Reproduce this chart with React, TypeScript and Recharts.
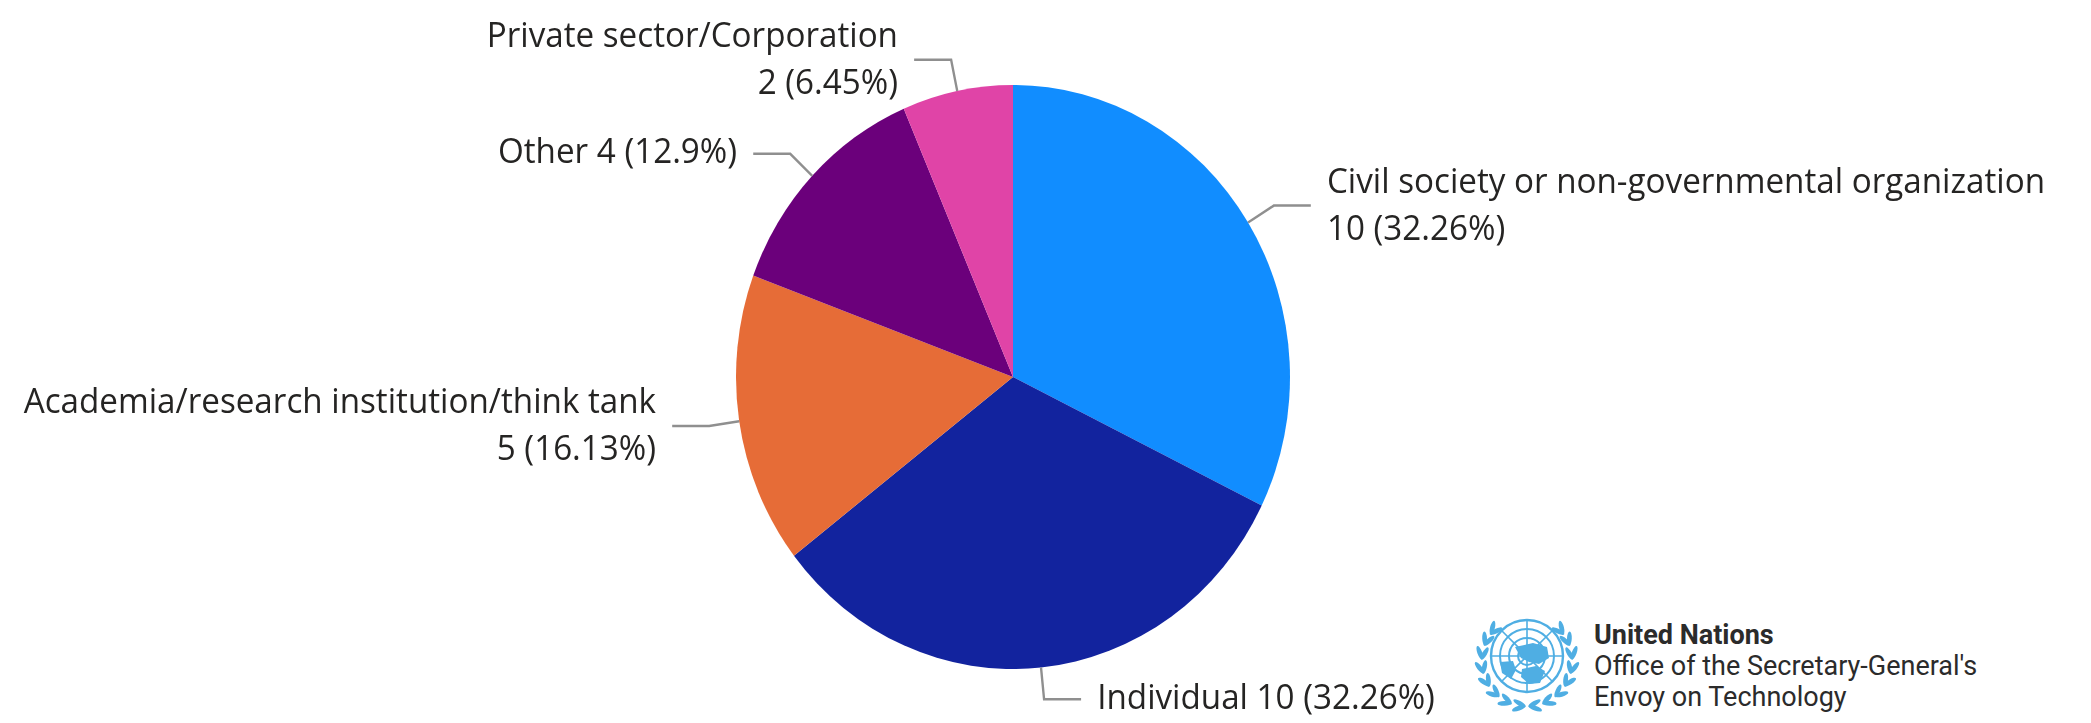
import React from 'react';
import { PieChart, Pie, Cell } from 'recharts';

const categories = [
  'Civil society or non-governmental organization',
  'Individual',
  'Academia/research institution/think tank',
  'Other',
  'Private sector/Corporation',
];
const counts = [10, 10, 5, 4, 2];
const twoLineLabels = [true, false, true, false, true];
const COLORS = ['#118DFF', '#12239E', '#E66C37', '#6B007B', '#E044A7'];
const logoLines = ['United Nations', "Office of the Secretary-General's", 'Envoy on Technology'];

const total = counts.reduce((a, b) => a + b, 0);
const data = categories.map((name, i) => ({
  name,
  value: counts[i],
  detail: `${counts[i]} (${parseFloat(((counts[i] / total) * 100).toFixed(2))}%)`,
  wrap: twoLineLabels[i],
}));

// the reference is stretched vertically, so the whole chart gets squeezed on x
const SQUEEZE = 277 / 292;
const WIDTH = 2091 / SQUEEZE;
const HEIGHT = 723;
const CX = 1013 / SQUEEZE;
const CY = 377;
const RADIUS = 292;
const RADIAL = 32;
const RUN = 39;
const GAP = 17;
const FONT = '"Open Sans", sans-serif';

const RAD = Math.PI / 180;

function leaderPoints(midAngle: number) {
  const cos = Math.cos(-midAngle * RAD);
  const sin = Math.sin(-midAngle * RAD);
  const dir = cos >= 0 ? 1 : -1;
  const ex = CX + (RADIUS + RADIAL) * cos;
  const ey = CY + (RADIUS + RADIAL) * sin;
  return {
    dir,
    sx: CX + RADIUS * cos,
    sy: CY + RADIUS * sin,
    ex,
    ey,
    tx: ex + dir * RUN,
  };
}

const renderLine = (props: any) => {
  const p = leaderPoints(props.midAngle);
  return (
    <path
      d={`M${p.sx},${p.sy}L${p.ex},${p.ey}L${p.tx},${p.ey}`}
      fill="none"
      stroke="#8f8f8f"
      strokeWidth={2.5}
    />
  );
};

const renderLabel = (props: any) => {
  const p = leaderPoints(props.midAngle);
  const x = p.tx + p.dir * GAP;
  const common = {
    x,
    textAnchor: (p.dir > 0 ? 'start' : 'end') as 'start' | 'end',
    dominantBaseline: 'middle' as const,
    fill: '#252423',
    fontFamily: FONT,
    fontSize: 35,
  };
  const entry = data[props.index];
  if (entry.wrap) {
    return (
      <g>
        <text {...common} y={p.ey - 22}>{entry.name}</text>
        <text {...common} y={p.ey + 25}>{entry.detail}</text>
      </g>
    );
  }
  return <text {...common} y={p.ey}>{`${entry.name} ${entry.detail}`}</text>;
};

const LEAF_ANGLES = [80, 62, 44, 26, 8, -10, -28, -44];

function Wreath({ mirror }: { mirror?: boolean }) {
  const leaves = [
    { r: 48, tilt: 30 },
    { r: 43, tilt: -20 },
  ];
  return (
    <g transform={mirror ? 'scale(-1,1)' : undefined}>
      {leaves.map((row) =>
        LEAF_ANGLES.map((deg) => {
          const x = row.r * Math.cos(deg * RAD);
          const y = 5 + row.r * Math.sin(deg * RAD);
          const rot = deg - 90 + row.tilt;
          return (
            <ellipse key={`${row.r}-${deg}`} cx={x} cy={y} rx={7} ry={2.4} transform={`rotate(${rot} ${x} ${y})`} />
          );
        }),
      )}
    </g>
  );
}

function UnEmblem() {
  const blue = '#4FAEE3';
  return (
    <svg
      width={116}
      height={110}
      viewBox="-58 -50 116 110"
      style={{ position: 'absolute', left: 1469, top: 606, filter: 'blur(0.7px)' }}
    >
      <g fill="none" stroke={blue}>
        <circle r={36} strokeWidth={2.4} />
        <circle r={27} strokeWidth={2} />
        <circle r={18} strokeWidth={2} />
        <circle r={9} strokeWidth={2} />
        {[0, 45, 90, 135].map((a) => (
          <line key={a} x1={-36} x2={36} strokeWidth={1.6} transform={`rotate(${a})`} />
        ))}
      </g>
      <g fill={blue}>
        <Wreath />
        <Wreath mirror />
        <path d="M-12,-9 L6,-13 L20,-9 L22,2 L12,8 L2,6 L-6,2 Z" />
        <path d="M-27,6 L-14,5 L-11,14 L-16,23 L-25,17 Z" />
        <path d="M-5,13 L9,10 L18,15 L13,27 L2,28 L-6,21 Z" />
      </g>
    </svg>
  );
}

export default function App() {
  return (
    <div style={{ position: 'absolute', left: 0, top: 0, width: 2091, height: HEIGHT, overflow: 'hidden', background: '#fff' }}>
      <div style={{ width: WIDTH, height: HEIGHT, transform: `scaleX(${SQUEEZE})`, transformOrigin: '0 0' }}>
        <PieChart width={WIDTH} height={HEIGHT} margin={{ top: 0, right: 0, bottom: 0, left: 0 }}>
          <Pie
            data={data}
            dataKey="value"
            nameKey="name"
            cx={CX}
            cy={CY}
            outerRadius={RADIUS}
            startAngle={90}
            endAngle={-270}
            stroke="none"
            label={renderLabel}
            labelLine={renderLine}
            isAnimationActive={false}
          >
            {data.map((entry, index) => (
              <Cell key={`cell-${index}`} fill={COLORS[index]} />
            ))}
          </Pie>
        </PieChart>
      </div>
      <UnEmblem />
      {logoLines.map((line, i) => (
        <div
          key={line}
          style={{
            position: 'absolute',
            left: 1594,
            top: 618 + i * 31,
            fontFamily: 'Roboto, sans-serif',
            fontSize: 27,
            lineHeight: '34px',
            fontWeight: i === 0 ? 700 : 400,
            color: '#2b2b2b',
            whiteSpace: 'nowrap',
          }}
        >
          {line}
        </div>
      ))}
    </div>
  );
}
